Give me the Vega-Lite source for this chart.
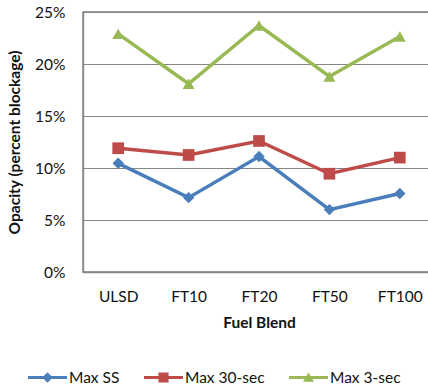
{
  "$schema": "https://vega.github.io/schema/vega-lite/v6.json",
  "autosize": "none",
  "width": 352,
  "height": 260,
  "padding": {"left": 83, "top": 12, "right": 0, "bottom": 117},
  "background": "white",
  "config": {
    "font": "Lato",
    "view": {"stroke": "#3a3a3a", "strokeWidth": 1.3},
    "axis": {"labelFont": "Lato", "titleFont": "Lato", "labelColor": "#111", "titleColor": "#111", "labelFontSize": 15.5, "titleFontSize": 15.5, "titleFontWeight": "bold"}
  },
  "data": {
    "values": [
      {"blend": "ULSD", "series": "Max SS", "value": 0.1045},
      {"blend": "FT10", "series": "Max SS", "value": 0.0715},
      {"blend": "FT20", "series": "Max SS", "value": 0.111},
      {"blend": "FT50", "series": "Max SS", "value": 0.060},
      {"blend": "FT100", "series": "Max SS", "value": 0.0755},
      {"blend": "ULSD", "series": "Max 30-sec", "value": 0.119},
      {"blend": "FT10", "series": "Max 30-sec", "value": 0.1125},
      {"blend": "FT20", "series": "Max 30-sec", "value": 0.126},
      {"blend": "FT50", "series": "Max 30-sec", "value": 0.0945},
      {"blend": "FT100", "series": "Max 30-sec", "value": 0.110},
      {"blend": "ULSD", "series": "Max 3-sec", "value": 0.229},
      {"blend": "FT10", "series": "Max 3-sec", "value": 0.181},
      {"blend": "FT20", "series": "Max 3-sec", "value": 0.237},
      {"blend": "FT50", "series": "Max 3-sec", "value": 0.188},
      {"blend": "FT100", "series": "Max 3-sec", "value": 0.2265}
    ]
  },
  "encoding": {
    "x": {
      "field": "blend", "type": "nominal", "sort": ["ULSD", "FT10", "FT20", "FT50", "FT100"],
      "scale": {"type": "point", "padding": 0.5},
      "axis": {"title": "Fuel Blend", "labelAngle": 0, "ticks": false, "tickSize": 0, "labelPadding": 17, "titlePadding": 11, "domainColor": "#868686", "domainWidth": 1.3, "grid": false}
    },
    "y": {
      "field": "value", "type": "quantitative",
      "scale": {"domain": [0, 0.25], "nice": false},
      "axis": {"title": "Opacity (percent blockage)", "format": ".0%", "values": [0, 0.05, 0.1, 0.15, 0.2, 0.25], "ticks": false, "tickSize": 0, "labelPadding": 18, "titlePadding": 12, "domainColor": "#868686", "domainWidth": 1.3, "gridColor": "#868686", "gridWidth": 1}
    }
  },
  "layer": [
    {
      "mark": {"type": "line", "strokeWidth": 3.5},
      "encoding": {"color": {"field": "series", "type": "nominal", "legend": null,
        "scale": {"domain": ["Max SS", "Max 30-sec", "Max 3-sec"], "range": ["#4a7ebb", "#be4b48", "#98b954"]}}}
    },
    {
      "mark": {"type": "point", "filled": true, "opacity": 1},
      "encoding": {
        "color": {"field": "series", "type": "nominal", "legend": null},
        "shape": {"field": "series", "type": "nominal", "legend": null,
          "scale": {"domain": ["Max SS", "Max 30-sec", "Max 3-sec"], "range": ["diamond", "square", "triangle-up"]}},
        "size": {"field": "series", "type": "nominal", "legend": null,
          "scale": {"domain": ["Max SS", "Max 30-sec", "Max 3-sec"], "range": [130, 144, 215]}}
      }
    },
    {
      "mark": {"type": "point", "filled": true, "opacity": 0},
      "encoding": {
        "fill": {"field": "series", "type": "nominal",
          "scale": {"domain": ["Max SS", "Max 30-sec", "Max 3-sec"], "range": ["#4a7ebb", "#be4b48", "#98b954"]},
          "legend": {"title": null, "orient": "none", "legendX": -55, "legendY": 346, "direction": "horizontal", "columns": 3, "symbolSize": 1521, "symbolOpacity": 1, "symbolStrokeWidth": 0, "labelFont": "Lato", "labelFontSize": 15.5, "labelColor": "#111", "labelOffset": 2, "columnPadding": 24}},
        "shape": {"field": "series", "type": "nominal",
          "scale": {"domain": ["Max SS", "Max 30-sec", "Max 3-sec"], "range": [
            "M-1,-0.08H1V0.08H-1Z M0,-0.27L0.27,0L0,0.27L-0.27,0Z",
            "M-1,-0.08H1V0.08H-1Z M-0.26,-0.26H0.26V0.26H-0.26Z",
            "M-1,-0.08H1V0.08H-1Z M0,-0.26L0.28,0.22H-0.28Z"
          ]},
          "legend": {"title": null, "orient": "none", "legendX": -55, "legendY": 346, "direction": "horizontal", "columns": 3, "symbolSize": 1521, "symbolOpacity": 1, "symbolStrokeWidth": 0, "labelFont": "Lato", "labelFontSize": 15.5, "labelColor": "#111", "labelOffset": 2, "columnPadding": 24}}
      }
    }
  ],
  "resolve": {"scale": {"shape": "independent", "size": "independent", "fill": "independent"}}
}
